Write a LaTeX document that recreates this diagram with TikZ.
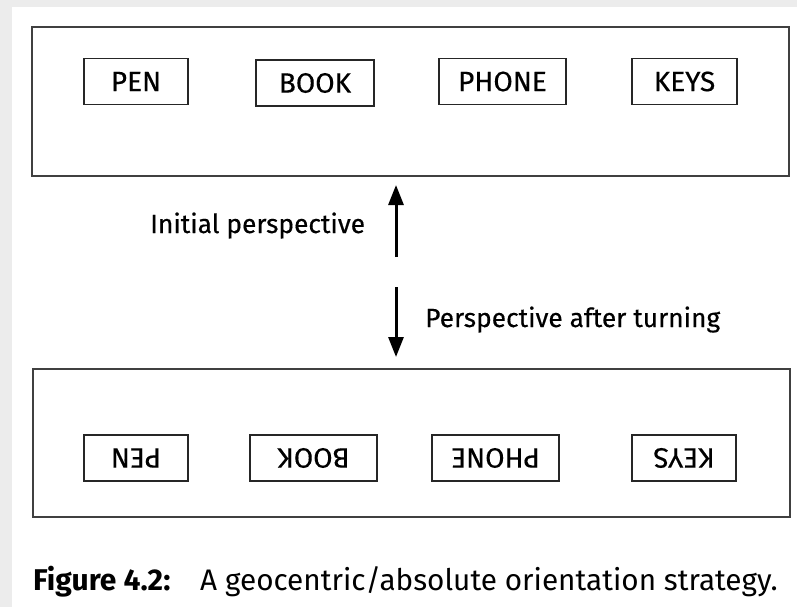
\documentclass[tikz,border=0pt]{standalone}
\usepackage{fontspec}
\setmainfont{Fira Sans}
\newfontfamily\figfont[FakeBold=0.4]{Fira Sans}
\usetikzlibrary{arrows.meta}

\tikzset{
  item/.style={draw=black!85, line width=1.5pt, minimum height=46pt, inner sep=0pt,
               font=\figfont\fontsize{28}{32}\selectfont},
  room/.style={draw=black!75, line width=1.6pt},
  label/.style={anchor=base west, inner sep=0pt, font=\figfont\fontsize{26.3}{30}\selectfont},
}

\begin{document}
\begin{tikzpicture}[x=1pt, y=-1pt, >={Triangle[length=20pt,width=15pt]}]
% page background
\fill[gray!15] (0,0) rectangle (797,607);
\fill[white] (12,7) rectangle (797,607);
\useasboundingbox (0,0) rectangle (797,607);

% room seen first
\draw[room] (32,27) rectangle (789,176);
\node[item, minimum width=104pt] (pen)   at (136,81.5)   {PEN};
\node[item, minimum width=118pt] (book)  at (315,83)     {BOOK};
\node[item, minimum width=127pt] (phone) at (502.5,81.5) {PHONE};
\node[item, minimum width=105pt] (keys)  at (684.5,81.5) {KEYS};

% room seen after turning
\draw[room] (33,369) rectangle (790,517);
\node[item, minimum width=104pt, rotate=180] (penT)   at (136,458)   {PEN};
\node[item, minimum width=127pt, rotate=180] (bookT)  at (313.5,458) {BOOK};
\node[item, minimum width=127pt, rotate=180] (phoneT) at (495.5,458) {PHONE};
\node[item, minimum width=104pt, rotate=180] (keysT)  at (684,458)   {KEYS};

% perspectives
\coordinate (upfrom) at (396,257);
\coordinate (upto)   at (396,185);
\coordinate (downfrom) at (396,287);
\coordinate (downto)   at (396,357);
\draw[->, line width=3pt] (upfrom) -- (upto);
\draw[->, line width=3pt] (downfrom) -- (downto);
\node[label] (initial) at (150,233) {Initial perspective};
\node[label] (turned)  at (425,327) {Perspective after turning};

% caption
\node[label, font=\fontsize{30}{34}\selectfont\bfseries] (fig) at (33,590) {Figure 4.2:};
\node[label, font=\fontsize{29.7}{34}\selectfont] (cap) at (200,590) {A geocentric/absolute orientation strategy.};
\end{tikzpicture}
\end{document}
